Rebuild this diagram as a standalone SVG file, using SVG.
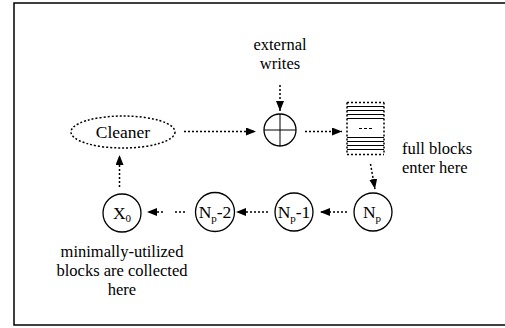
<svg xmlns="http://www.w3.org/2000/svg" width="505" height="328" viewBox="0 0 505 328">
<defs>
<marker id="ah" viewBox="0 0 10 8" refX="10" refY="4" markerWidth="10" markerHeight="8" markerUnits="userSpaceOnUse" orient="auto">
<path d="M0,0 L10,4 L0,8 Z" fill="#000"/>
</marker>
</defs>
<style>
.lbl{text-anchor:middle}
.node{fill:#fff;stroke:#000;stroke-width:1.3}
.dot{fill:none;stroke:#000;stroke-width:1.5;stroke-dasharray:2,2}
.line{stroke:#000;stroke-width:1}
.sub{font-size:11px}
.big{font-size:17.5px}
</style>
<rect x="14" y="3" width="500" height="322" fill="#fff" stroke="#000" stroke-width="1.5"/>
<g font-family="Liberation Serif, Times New Roman, serif" font-size="16.5" fill="#000">
<g id="label-external" class="lbl"><text x="280" y="50">external</text><text x="280" y="69">writes</text></g>
<g id="label-full"><text x="402" y="153.5">full blocks</text><text x="402" y="172.5">enter here</text></g>
<g id="label-min" class="lbl"><text x="122" y="257">minimally-utilized</text><text x="122" y="276">blocks are collected</text><text x="122" y="295">here</text></g>
<g id="cleaner">
<ellipse cx="123" cy="132" rx="52" ry="16" class="dot" fill="#fff"/>
<text x="123" y="138" class="lbl big">Cleaner</text>
</g>
<g id="plus">
<circle cx="280" cy="130" r="16" class="node"/>
<line x1="264" y1="130" x2="296" y2="130" class="line" stroke-width="1.3"/>
<line x1="280" y1="114" x2="280" y2="146" class="line" stroke-width="1.3"/>
</g>
<g id="stack">
<rect x="347" y="102.5" width="37" height="52" fill="#fff" stroke="none"/>
<line x1="347" y1="102.5" x2="384" y2="102.5" class="dot"/>
<line x1="347" y1="154.5" x2="384" y2="154.5" class="dot"/>
<line x1="347" y1="102.5" x2="347" y2="154.5" class="dot"/>
<line x1="384" y1="102.5" x2="384" y2="154.5" class="dot"/>
<line x1="347" y1="106.5" x2="384" y2="106.5" class="line"/>
<line x1="347" y1="110.5" x2="384" y2="110.5" class="line"/>
<line x1="347" y1="114.5" x2="384" y2="114.5" class="line"/>
<line x1="347" y1="118.5" x2="384" y2="118.5" class="line"/>
<line x1="359" y1="128.5" x2="372" y2="128.5" class="line" stroke-dasharray="3,2"/>
<line x1="347" y1="137.5" x2="384" y2="137.5" class="line"/>
<line x1="347" y1="141.5" x2="384" y2="141.5" class="line"/>
<line x1="347" y1="145.5" x2="384" y2="145.5" class="line"/>
<line x1="347" y1="149.5" x2="384" y2="149.5" class="line"/>
</g>
<g id="np">
<circle cx="373" cy="212" r="19" class="node"/>
<text x="372" y="218" class="lbl big">N<tspan class="sub" dy="4">p</tspan></text>
</g>
<g id="np1">
<circle cx="294" cy="212" r="19" class="node"/>
<text x="294" y="218" class="lbl big">N<tspan class="sub" dy="4">p</tspan><tspan dy="-4">-1</tspan></text>
</g>
<g id="np2">
<circle cx="215" cy="212" r="19.5" class="node"/>
<text x="215" y="218" class="lbl big">N<tspan class="sub" dy="4">p</tspan><tspan dy="-4">-2</tspan></text>
</g>
<g id="x0">
<circle cx="122" cy="213" r="19" class="node"/>
<text x="122" y="219" class="lbl big">X<tspan class="sub" dy="3">0</tspan></text>
</g>
</g>
<g id="connectors">
<line x1="280" y1="85" x2="280" y2="111" class="dot" marker-end="url(#ah)"/>
<line x1="184" y1="131.5" x2="256" y2="131.5" class="dot" marker-end="url(#ah)"/>
<line x1="305" y1="131.5" x2="342" y2="131.5" class="dot" marker-end="url(#ah)"/>
<line x1="370.5" y1="164" x2="375" y2="189" class="dot" marker-end="url(#ah)"/>
<line x1="347" y1="212" x2="320" y2="212" class="dot" marker-end="url(#ah)"/>
<line x1="268" y1="212" x2="236" y2="212" class="dot" marker-end="url(#ah)"/>
<line x1="163" y1="212" x2="147" y2="212" class="dot" stroke-dasharray="3,2.5" marker-end="url(#ah)"/>
<line x1="175" y1="212" x2="186" y2="212" class="dot" stroke-dasharray="3,2.5"/>
<line x1="119.5" y1="187" x2="119.5" y2="155" class="dot" marker-end="url(#ah)"/>
</g>
</svg>
